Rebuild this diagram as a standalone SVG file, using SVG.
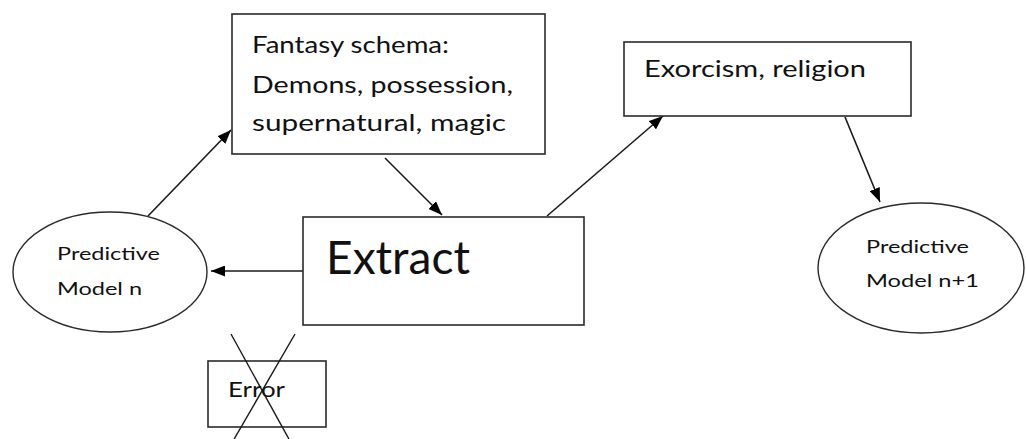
<svg xmlns="http://www.w3.org/2000/svg" width="1026" height="439" viewBox="0 0 1026 439">
  <defs>
    <marker id="arrow" viewBox="0 0 14 11" refX="14" refY="5.5" markerWidth="14" markerHeight="11" markerUnits="userSpaceOnUse" orient="auto">
      <path d="M0,0 L14,5.5 L0,11 Z" fill="#000"/>
    </marker>
    <style>
      .box { fill: #fff; stroke: #2a2a2a; stroke-width: 1.6; }
      .oval { fill: #fff; stroke: #2a2a2a; stroke-width: 1.4; }
      .edge { fill: none; stroke: #1a1a1a; stroke-width: 1.6; marker-end: url(#arrow); }
      .cross { fill: none; stroke: #1a1a1a; stroke-width: 1.4; }
      text { font-family: "Lato", "Open Sans", "Liberation Sans", sans-serif; fill: #111; }
      .big { font-size: 24px; }
      .small { font-size: 17px; }
      .huge { font-size: 46px; }
      .err { font-size: 21px; }
    </style>
  </defs>

  <!-- connectors -->
  <g id="connectors">
    <line class="edge" x1="148" y1="216" x2="231" y2="130"/>
    <line class="edge" x1="385" y1="158" x2="442" y2="215"/>
    <line class="edge" x1="547" y1="216" x2="663" y2="116"/>
    <line class="edge" x1="845" y1="117" x2="880" y2="202"/>
    <line class="edge" x1="303" y1="271" x2="211" y2="271"/>
  </g>

  <g id="fantasy-schema">
    <rect class="box" x="232" y="14" width="313" height="140"/>
    <text class="big" x="252" y="53" textLength="197" lengthAdjust="spacingAndGlyphs">Fantasy schema:</text>
    <text class="big" x="252" y="93" textLength="261" lengthAdjust="spacingAndGlyphs">Demons, possession,</text>
    <text class="big" x="252" y="131" textLength="254" lengthAdjust="spacingAndGlyphs">supernatural, magic</text>
  </g>

  <g id="predictive-model-n">
    <ellipse class="oval" cx="110" cy="272" rx="97" ry="60"/>
    <text class="small" x="57" y="260" textLength="103" lengthAdjust="spacingAndGlyphs">Predictive</text>
    <text class="small" x="57" y="295" textLength="85" lengthAdjust="spacingAndGlyphs">Model n</text>
  </g>

  <g id="extract">
    <rect class="box" x="303" y="217" width="281" height="108"/>
    <text class="huge" x="326" y="274" textLength="144" lengthAdjust="spacingAndGlyphs">Extract</text>
  </g>

  <g id="exorcism-religion">
    <rect class="box" x="624" y="42" width="287" height="74"/>
    <text class="big" x="644" y="77" textLength="222" lengthAdjust="spacingAndGlyphs">Exorcism, religion</text>
  </g>

  <g id="predictive-model-n1">
    <ellipse class="oval" cx="921" cy="268" rx="103" ry="65"/>
    <text class="small" x="866" y="253" textLength="103" lengthAdjust="spacingAndGlyphs">Predictive</text>
    <text class="small" x="866" y="287" textLength="113" lengthAdjust="spacingAndGlyphs">Model n+1</text>
  </g>

  <g id="error">
    <rect class="box" x="208" y="361" width="118" height="66"/>
    <text class="err" x="228" y="397" textLength="57" lengthAdjust="spacingAndGlyphs">Error</text>
    <line class="cross" x1="231" y1="334" x2="290" y2="441"/>
    <line class="cross" x1="295" y1="334" x2="233" y2="441"/>
  </g>
</svg>
